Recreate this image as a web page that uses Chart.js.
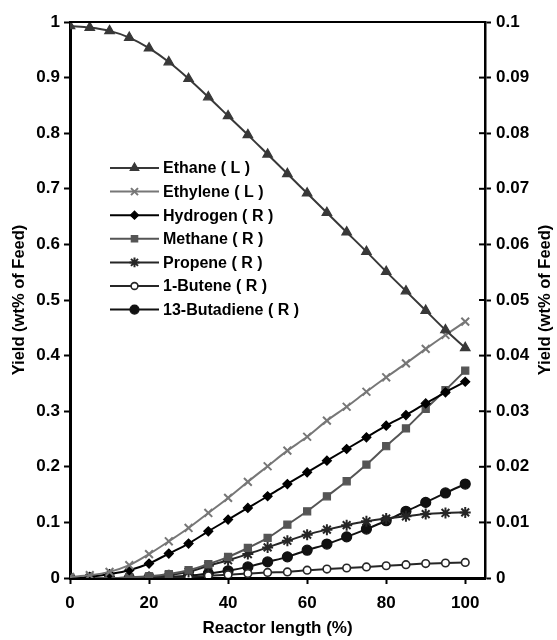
<!DOCTYPE html>
<html>
<head>
<meta charset="utf-8">
<script src="https://cdn.jsdelivr.net/npm/chart.js@4/dist/chart.umd.min.js"></script>
<style>
  html, body { margin: 0; padding: 0; background: #fff; }
  #wrap { position: relative; width: 557px; height: 640px; }
</style>
</head>
<body>
<div id="wrap"><canvas id="chart"></canvas></div>
<script>
// reactor length positions (%)
const reactorLength = [0, 5, 10, 15, 20, 25, 30, 35, 40, 45, 50, 55, 60, 65, 70, 75, 80, 85, 90, 95, 100];

// left axis series
const ethane = [0.993, 0.990, 0.984, 0.972, 0.953, 0.928, 0.898, 0.865, 0.831, 0.797, 0.762, 0.727, 0.692, 0.657, 0.622, 0.587, 0.551, 0.516, 0.481, 0.446, 0.414];
const ethylene = [0.002, 0.005, 0.011, 0.023, 0.043, 0.066, 0.090, 0.117, 0.144, 0.173, 0.201, 0.229, 0.254, 0.283, 0.308, 0.335, 0.361, 0.386, 0.412, 0.437, 0.461];

// right axis series
const hydrogen = [0, 0.0002, 0.0007, 0.0014, 0.0026, 0.0044, 0.0062, 0.0084, 0.0105, 0.0126, 0.0147, 0.0169, 0.0190, 0.0211, 0.0232, 0.0253, 0.0274, 0.0293, 0.0314, 0.0334, 0.0353];
const methane = [0, 0, 0, 0.0001, 0.0003, 0.0007, 0.0014, 0.0025, 0.0038, 0.0054, 0.0072, 0.0096, 0.0120, 0.0147, 0.0174, 0.0204, 0.0237, 0.0269, 0.0304, 0.0338, 0.0373];
const propene = [0, 0, 0, 0.0001, 0.0002, 0.0005, 0.0011, 0.0022, 0.0032, 0.0043, 0.0055, 0.0067, 0.0078, 0.0087, 0.0095, 0.0102, 0.0107, 0.0111, 0.0115, 0.0117, 0.0118];
const butene = [0, 0, 0, 0, 0.0001, 0.0001, 0.0002, 0.0004, 0.0006, 0.0008, 0.0010, 0.0011, 0.0014, 0.0016, 0.0018, 0.0020, 0.0022, 0.0024, 0.0026, 0.0027, 0.0028];
const butadiene = [0, 0, 0, 0, 0.0001, 0.0002, 0.0004, 0.0008, 0.0013, 0.0020, 0.0029, 0.0038, 0.0050, 0.0061, 0.0074, 0.0088, 0.0103, 0.0120, 0.0136, 0.0153, 0.0169];

const xTicks = [0, 20, 40, 60, 80, 100];
const FONT = "'Liberation Sans', Arial, sans-serif";

function points(values) {
    return values.map((v, i) => ({ x: reactorLength[i], y: v }));
}

function series(label, values, axis, color, style, radius, fill) {
    return {
        label: label,
        data: points(values),
        yAxisID: axis,
        borderColor: color,
        backgroundColor: fill || color,
        pointBorderColor: color,
        pointBackgroundColor: fill || color,
        pointStyle: style,
        pointRadius: radius,
        pointBorderWidth: style === "star" || style === "crossRot" ? 2 : (fill ? 1.6 : 1.2),
        borderWidth: 2,
        cubicInterpolationMode: "monotone"
    };
}

const datasets = [
    series("Ethane ( L )", ethane, "y", "#383838", "triangle", 5.5),
    series("Ethylene ( L )", ethylene, "y", "#777777", "crossRot", 5.5),
    series("Hydrogen ( R )", hydrogen, "y1", "#000000", "rectRot", 4.5),
    series("Methane ( R )", methane, "y1", "#555555", "rect", 5),
    series("Propene ( R )", propene, "y1", "#262626", "star", 5.5),
    series("1-Butene ( R )", butene, "y1", "#262626", "circle", 3.8, "#ffffff"),
    series("13-Butadiene ( R )", butadiene, "y1", "#111111", "circle", 5)
];

// legend with line + marker, plus top border, right title and crossing ticks
const extras = {
    id: "extras",
    afterDraw(chart) {
        const ctx = chart.ctx;
        const area = chart.chartArea;
        ctx.save();
        // top border of plot area
        ctx.strokeStyle = "#000";
        ctx.lineWidth = 2;
        ctx.beginPath();
        ctx.moveTo(area.left, area.top);
        ctx.lineTo(area.right, area.top);
        ctx.stroke();

        // right axis ticks crossing into plot
        const y1 = chart.scales.y1;
        ctx.lineWidth = 2;
        y1.ticks.forEach(t => {
            const py = y1.getPixelForValue(t.value);
            ctx.beginPath();
            ctx.moveTo(area.right - 6, py);
            ctx.lineTo(area.right, py);
            ctx.stroke();
        });

        // right axis title, reading bottom to top
        ctx.translate(545, (area.top + area.bottom) / 2);
        ctx.rotate(-Math.PI / 2);
        ctx.fillStyle = "#000";
        ctx.font = "bold 16.5px " + FONT;
        ctx.textAlign = "center";
        ctx.textBaseline = "middle";
        ctx.fillText("Yield (wt% of Feed)", 0, 0);
        ctx.restore();

        // legend
        ctx.save();
        ctx.font = "bold 16px " + FONT;
        ctx.textBaseline = "middle";
        ctx.textAlign = "left";
        chart.data.datasets.forEach((ds, i) => {
            const y = 168 + i * 23.6;
            ctx.strokeStyle = ds.borderColor;
            ctx.lineWidth = 2;
            ctx.beginPath();
            ctx.moveTo(110, y);
            ctx.lineTo(159, y);
            ctx.stroke();
            ctx.fillStyle = ds.pointBackgroundColor;
            ctx.strokeStyle = ds.pointBorderColor;
            ctx.lineWidth = ds.pointBorderWidth;
            if (Chart.helpers && Chart.helpers.drawPoint) {
                Chart.helpers.drawPoint(ctx, {
                    pointStyle: ds.pointStyle,
                    radius: ds.pointRadius * 0.9,
                    rotation: 0,
                    borderWidth: ds.pointBorderWidth
                }, 134.5, y);
            }
            ctx.fillStyle = "#000";
            ctx.fillText(ds.label, 163, y + 1);
        });
        ctx.restore();
    }
};

new Chart(document.getElementById("chart"), {
    type: "line",
    data: { datasets: datasets },
    plugins: [extras],
    options: {
        responsive: true,
        maintainAspectRatio: false,
        animation: false,
        layout: { padding: { top: 22, right: 0, left: 0, bottom: 0 } },
        plugins: {
            legend: { display: false },
            tooltip: { enabled: false }
        },
        scales: {
            x: {
                type: "linear",
                min: 0,
                max: 105,
                afterBuildTicks: scale => {
                    scale.ticks = xTicks.map(v => ({ value: v }));
                },
                afterFit: scale => { scale.height = 62; },
                border: { display: true, color: "#000", width: 3 },
                grid: { drawOnChartArea: false, drawTicks: true, tickLength: 6, tickColor: "#000", tickWidth: 2 },
                ticks: {
                    color: "#000",
                    padding: 9,
                    maxRotation: 0,
                    font: { family: FONT, size: 17, weight: "bold" }
                },
                title: {
                    display: true,
                    text: "Reactor length (%)",
                    color: "#000",
                    padding: { top: 0, bottom: 1 },
                    font: { family: FONT, size: 17, weight: "bold" }
                }
            },
            y: {
                position: "left",
                min: 0,
                max: 1,
                afterFit: scale => { scale.width = 70; },
                border: { display: true, color: "#000", width: 3 },
                grid: { drawOnChartArea: false, drawTicks: true, tickLength: 6, tickColor: "#000", tickWidth: 2 },
                ticks: {
                    stepSize: 0.1,
                    color: "#000",
                    padding: 4,
                    font: { family: FONT, size: 17, weight: "bold" },
                    callback: v => String(+v.toFixed(2))
                },
                title: {
                    display: true,
                    text: "Yield (wt% of Feed)",
                    color: "#000",
                    padding: { top: 10, bottom: 0 },
                    font: { family: FONT, size: 16.5, weight: "bold" }
                }
            },
            y1: {
                position: "right",
                min: 0,
                max: 0.1,
                afterFit: scale => { scale.width = 72; },
                border: { display: true, color: "#000", width: 2.5 },
                grid: { drawOnChartArea: false, drawTicks: true, tickLength: 6, tickColor: "#000", tickWidth: 2 },
                ticks: {
                    stepSize: 0.01,
                    color: "#000",
                    padding: 5,
                    font: { family: FONT, size: 17, weight: "bold" },
                    callback: v => String(+v.toFixed(3))
                }
            }
        }
    }
});
</script>
</body>
</html>
